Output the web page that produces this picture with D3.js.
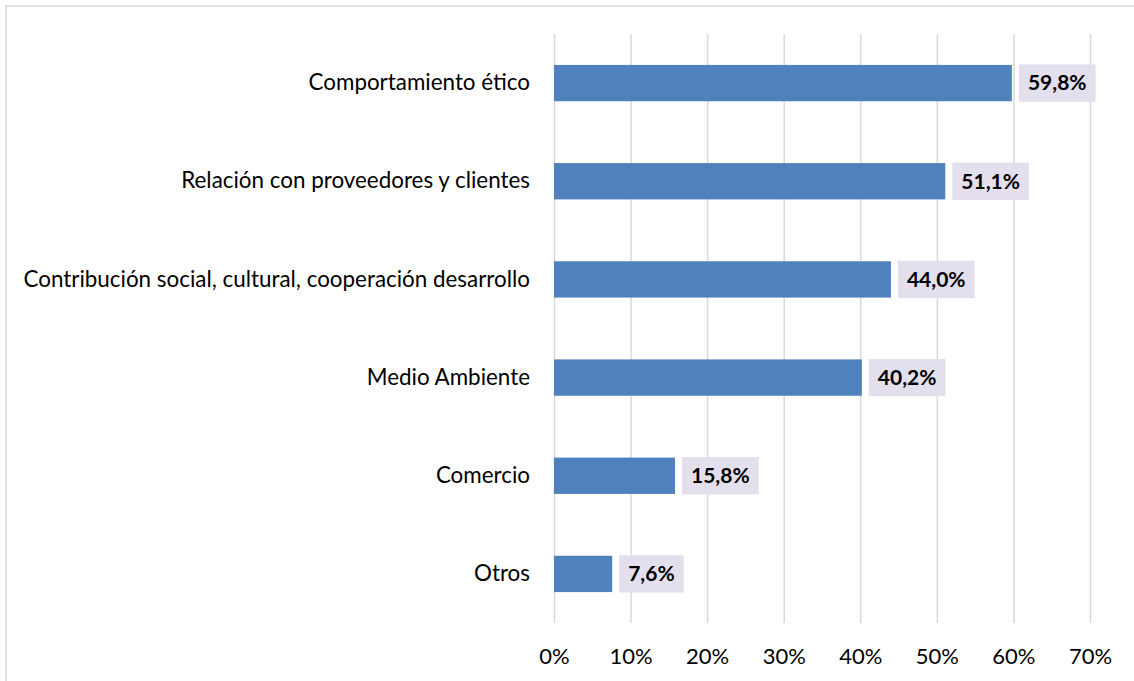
<!DOCTYPE html>
<html>
<head>
<meta charset="utf-8">
<script src="https://cdn.jsdelivr.net/npm/d3@7"></script>
<style>
  body { margin: 0; background: #fff; }
  svg text { font-family: Lato, "Open Sans", sans-serif; fill: #000; }
</style>
</head>
<body>
<div class="bar-chart-container"></div>
<script>
// Data.
const categories = [
  'Comportamiento ético',
  'Relación con proveedores y clientes',
  'Contribución social, cultural, cooperación desarrollo',
  'Medio Ambiente',
  'Comercio',
  'Otros'
];
const values = [59.8, 51.1, 44.0, 40.2, 15.8, 7.6];
const tickValues = [0, 10, 20, 30, 40, 50, 60, 70];

const chartData = categories.map((c, i) => ({ category: c, value: values[i] }));

// Margin convention.
const totalWidth = 1134;
const totalHeight = 681;
const margin = {top: 34, right: 44, bottom: 58, left: 554};
const width = totalWidth - margin.left - margin.right;
const height = totalHeight - margin.top - margin.bottom;

// Scales.
const xScale = d3.scaleLinear()
  .domain([0, 70])
  .range([0, width]);

const yScale = d3.scaleBand()
  .domain(categories)
  .range([0, height])
  .paddingInner(0.63)
  .paddingOuter(0.315);

// Draw base.
const root = d3.select('.bar-chart-container')
  .append('svg')
  .attr('width', totalWidth)
  .attr('height', totalHeight);

// Chart frame.
root.append('path')
  .attr('d', `M6,${totalHeight} V6 H${totalWidth}`)
  .attr('fill', 'none')
  .attr('stroke', '#d9d9d9')
  .attr('stroke-width', 1.5);

const svg = root.append('g')
  .attr('transform', `translate(${margin.left}, ${margin.top})`);

// Gridlines and tick labels.
const xAxis = d3.axisBottom(xScale)
  .tickValues(tickValues)
  .tickFormat(d => d + '%')
  .tickSizeInner(-height)
  .tickSizeOuter(0)
  .tickPadding(25);

const xAxisDraw = svg.append('g')
  .attr('class', 'x axis')
  .attr('transform', `translate(0, ${height})`)
  .call(xAxis);

xAxisDraw.select('.domain').remove();
xAxisDraw.selectAll('line')
  .attr('stroke', '#d9d9d9')
  .attr('stroke-width', 1.5);
xAxisDraw.selectAll('text')
  .style('font-size', '22px')
  .attr('fill', '#000');

// Bars.
svg.selectAll('.bar')
  .data(chartData)
  .enter()
  .append('rect')
  .attr('class', 'bar')
  .attr('x', 0)
  .attr('y', d => yScale(d.category))
  .attr('width', d => xScale(d.value))
  .attr('height', yScale.bandwidth())
  .style('fill', '#4f81bd');

// Category labels.
const yAxis = d3.axisLeft(yScale).tickSize(0).tickPadding(24);
const yAxisDraw = svg.append('g')
  .attr('class', 'y axis')
  .call(yAxis);
yAxisDraw.select('.domain').remove();
yAxisDraw.selectAll('text')
  .style('font-size', '22.4px')
  .attr('fill', '#000');

// Value labels with boxes.
const fmt = d => d3.format('.1f')(d).replace('.', ',') + '%';
const labels = svg.selectAll('.value-label')
  .data(chartData)
  .enter()
  .append('g')
  .attr('class', 'value-label')
  .attr('transform', d => `translate(${xScale(d.value) + 7}, ${yScale(d.category)})`);

labels.append('text')
  .attr('x', 9)
  .attr('y', yScale.bandwidth() / 2)
  .attr('dy', '0.35em')
  .style('font-size', '21px')
  .style('font-weight', 'bold')
  .text(d => fmt(d.value));

labels.insert('rect', 'text')
  .attr('x', 0)
  .attr('y', -0.5)
  .attr('height', yScale.bandwidth() + 1)
  .attr('width', function() {
    return this.parentNode.querySelector('text').getComputedTextLength() + 18;
  })
  .style('fill', '#e4dfec');
</script>
</body>
</html>
